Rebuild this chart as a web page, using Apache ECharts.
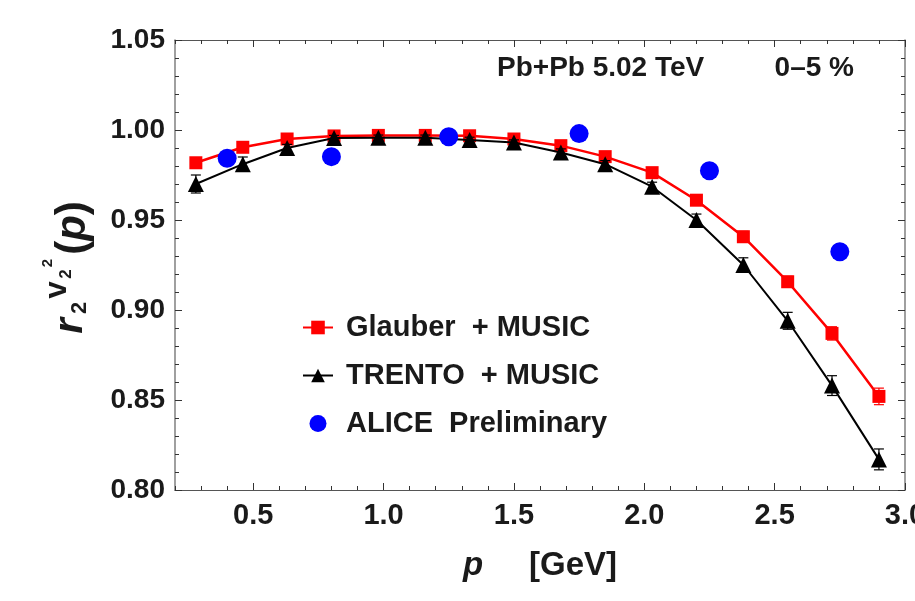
<!DOCTYPE html>
<html>
<head>
<meta charset="utf-8">
<script src="https://cdn.jsdelivr.net/npm/echarts@6/dist/echarts.min.js"></script>
<style>
  html, body { margin: 0; padding: 0; background: #fff; }
  #chart { width: 915px; height: 601px; }
</style>
</head>
<body>
<div id="chart"></div>
<script>
// momentum grid of the model curves
const pModel = [0.28, 0.46, 0.63, 0.81, 0.98, 1.16, 1.33, 1.50, 1.68, 1.85, 2.03, 2.20, 2.38, 2.55, 2.72, 2.90]
const glauber = [0.9818, 0.9904, 0.995, 0.9967, 0.997, 0.997, 0.9968, 0.995, 0.9913, 0.9852, 0.9763, 0.961, 0.9407, 0.9157, 0.887, 0.852]
const glauberErr = [0.002, 0.0015, 0.001, 0.001, 0.001, 0.001, 0.001, 0.001, 0.0015, 0.0015, 0.002, 0.0025, 0.003, 0.003, 0.0037, 0.0046]
const trento = [0.970, 0.981, 0.990, 0.9955, 0.9957, 0.9957, 0.9945, 0.993, 0.9875, 0.981, 0.9685, 0.950, 0.925, 0.894, 0.858, 0.817]
const trentoErr = [0.005, 0.004, 0.002, 0.0015, 0.0015, 0.0015, 0.0015, 0.0015, 0.002, 0.002, 0.0025, 0.0033, 0.004, 0.0047, 0.0055, 0.0058]
// ALICE preliminary points
const pAlice = [0.4, 0.8, 1.25, 1.75, 2.25, 2.75]
const alice = [0.9843, 0.9852, 0.9963, 0.998, 0.9774, 0.9324]
const xTicks = [0.5, 1.0, 1.5, 2.0, 2.5, 3.0]

const FONT = 'Liberation Sans, Arial, sans-serif'
const TXT = '#1a1a1a'

const pairs = (xs, ys) => xs.map((x, i) => [x, ys[i]])
const bars = (vals, errs) => pModel.map((p, i) => [p, vals[i] - errs[i], vals[i] + errs[i]])

function errorBar (color) {
  return (params, api) => {
    const x = api.value(0)
    const lo = api.coord([x, api.value(1)])
    const hi = api.coord([x, api.value(2)])
    const w = 5
    const style = { stroke: color, lineWidth: 1.2 }
    return {
      type: 'group',
      children: [
        { type: 'line', shape: { x1: lo[0], y1: lo[1], x2: hi[0], y2: hi[1] }, style },
        { type: 'line', shape: { x1: hi[0] - w, y1: hi[1], x2: hi[0] + w, y2: hi[1] }, style },
        { type: 'line', shape: { x1: lo[0] - w, y1: lo[1], x2: lo[0] + w, y2: lo[1] }, style }
      ]
    }
  }
}

const chart = echarts.init(document.getElementById('chart'), null, { renderer: 'canvas' })

const tickStyle = { color: '#333', width: 1 }
const frameX = { show: true, lineStyle: { color: '#555', width: 1.2 } }
const frameY = { show: true, lineStyle: { color: '#888', width: 1.6 } }

function xAxisOf (position, major, withLabel) {
  const ax = {
    type: 'value',
    min: 0.2,
    max: 3.0,
    position: position,
    splitLine: { show: false },
    axisLine: major ? frameX : { show: false },
    axisTick: { show: true, inside: true, length: major ? 7 : 4, lineStyle: tickStyle },
    axisLabel: { show: false }
  }
  if (major) {
    ax.axisTick.customValues = xTicks
    ax.axisLabel = {
      show: withLabel,
      customValues: xTicks,
      formatter: v => v.toFixed(1),
      fontFamily: FONT,
      fontWeight: 'bold',
      fontSize: 29,
      color: TXT,
      margin: 11
    }
  } else {
    ax.interval = 0.1
  }
  return ax
}

function yAxisOf (position, withLabel) {
  return {
    type: 'value',
    min: 0.80,
    max: 1.05,
    interval: 0.05,
    position: position,
    splitLine: { show: false },
    axisLine: frameY,
    axisTick: { show: true, inside: true, length: 7, lineStyle: tickStyle },
    minorTick: { show: true, splitNumber: 5, length: 4, lineStyle: tickStyle },
    axisLabel: {
      show: withLabel,
      formatter: v => v.toFixed(2),
      fontFamily: FONT,
      fontWeight: 'bold',
      fontSize: 28,
      color: TXT,
      margin: 10
    }
  }
}

const xMain = xAxisOf('bottom', true, true)
xMain.name = '{i|p}     [GeV]'
xMain.nameLocation = 'middle'
xMain.nameGap = 59
xMain.nameTextStyle = {
  fontFamily: FONT,
  fontWeight: 'bold',
  fontSize: 33,
  color: TXT,
  rich: { i: { fontFamily: FONT, fontWeight: 'bold', fontStyle: 'italic', fontSize: 33, color: TXT } }
}

const yText = (text, x, y, size, italic) => ({
  type: 'text',
  x: x,
  y: y,
  rotation: Math.PI / 2,
  style: {
    text: text,
    fill: TXT,
    font: (italic ? 'italic ' : '') + 'bold ' + size + 'px ' + FONT,
    align: 'center',
    verticalAlign: 'middle'
  }
})

const option = {
  animation: false,
  backgroundColor: '#fff',
  grid: { left: 175, right: 10, top: 40, bottom: 111, outerBoundsMode: 'none' },
  xAxis: [
    xMain,
    xAxisOf('bottom', false, false),
    xAxisOf('top', true, false),
    xAxisOf('top', false, false)
  ],
  yAxis: [yAxisOf('left', true), yAxisOf('right', false)],
  legend: {
    orient: 'vertical',
    left: 297,
    top: 308,
    itemWidth: 30,
    itemHeight: 17,
    itemGap: 19,
    data: ['Glauber  + MUSIC', 'TRENTO  + MUSIC', 'ALICE  Preliminary'],
    textStyle: {
      fontFamily: FONT,
      fontWeight: 'bold',
      fontSize: 29,
      color: TXT,
      padding: [0, 0, 0, 8]
    }
  },
  graphic: [
    yText('r', 71, 326, 40, true),
    yText('2', 80, 308, 22, false),
    yText('v', 57, 290, 31, false),
    yText('2', 66, 274, 17, false),
    yText('2', 48, 263, 15, false),
    {
      type: 'text',
      x: 73,
      y: 228,
      rotation: Math.PI / 2,
      style: {
        text: '({i|p})',
        fill: TXT,
        font: 'bold 42px ' + FONT,
        align: 'center',
        verticalAlign: 'middle',
        rich: { i: { fontFamily: FONT, fontWeight: 'bold', fontStyle: 'italic', fontSize: 42, fill: TXT } }
      }
    },
    {
      type: 'text',
      x: 497,
      y: 68,
      style: { text: 'Pb+Pb 5.02 TeV', fill: TXT, font: 'bold 28px ' + FONT, align: 'left', verticalAlign: 'middle' }
    },
    {
      type: 'text',
      x: 854,
      y: 68,
      style: { text: '0–5 %', fill: TXT, font: 'bold 28px ' + FONT, align: 'right', verticalAlign: 'middle' }
    }
  ],
  series: [
    {
      type: 'custom',
      name: 'glauberErr',
      z: 2,
      renderItem: errorBar('#ff0000'),
      data: bars(glauber, glauberErr),
      encode: { x: 0, y: [1, 2] }
    },
    {
      type: 'line',
      name: 'Glauber  + MUSIC',
      z: 3,
      data: pairs(pModel, glauber),
      symbol: 'rect',
      symbolSize: 13,
      lineStyle: { color: '#ff0000', width: 2.5 },
      itemStyle: { color: '#ff0000' }
    },
    {
      type: 'custom',
      name: 'trentoErr',
      z: 4,
      renderItem: errorBar('#000000'),
      data: bars(trento, trentoErr),
      encode: { x: 0, y: [1, 2] }
    },
    {
      type: 'line',
      name: 'TRENTO  + MUSIC',
      z: 5,
      data: pairs(pModel, trento),
      symbol: 'triangle',
      symbolSize: 16,
      lineStyle: { color: '#000000', width: 2 },
      itemStyle: { color: '#000000' }
    },
    {
      type: 'scatter',
      name: 'ALICE  Preliminary',
      z: 6,
      data: pairs(pAlice, alice),
      symbol: 'circle',
      symbolSize: 19,
      itemStyle: { color: '#0000ff', opacity: 1 }
    }
  ]
}

chart.setOption(option)
</script>
</body>
</html>
